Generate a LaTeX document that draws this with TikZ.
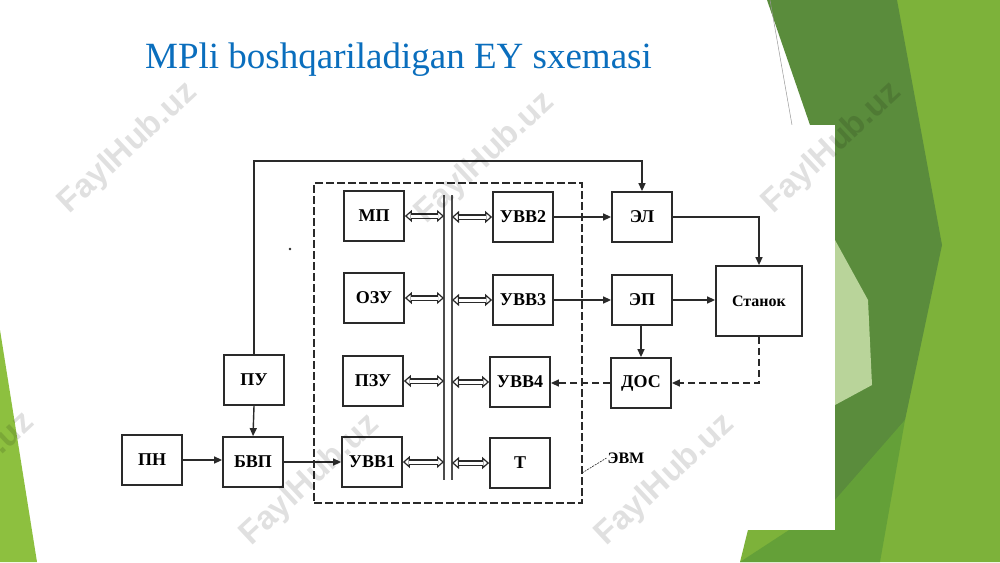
\documentclass[tikz,border=0pt]{standalone}
\usepackage{fontspec}
\setmainfont{Liberation Serif}
\newfontfamily\wmfont{Liberation Sans}
\usetikzlibrary{arrows.meta,positioning,calc}
\definecolor{titleblue}{HTML}{0A6EBD}
\definecolor{gdark}{HTML}{5A8C3C}
\definecolor{glight}{HTML}{7DB23A}
\definecolor{gmid}{HTML}{64A038}
\definecolor{gpale}{HTML}{B9D49A}
\definecolor{gleft}{HTML}{8DC03F}
\definecolor{lineblk}{HTML}{2A2A2A}
\begin{document}
\begin{tikzpicture}[x=1pt,y=-1pt,
  blk/.style={draw=lineblk, line width=1.8pt, fill=white, minimum width=60pt, minimum height=50pt, inner sep=0pt, font=\bfseries\fontsize{18}{18}\selectfont},
  conn/.style={line width=1.4pt, draw=lineblk},
  arr/.style={conn, -{Triangle[length=8pt,width=7pt]}},
  dsh/.style={dash pattern=on 7pt off 4pt},
  bitips/.style={line width=1.2pt, draw=lineblk, {Triangle[open,length=7pt,width=12pt]}-{Triangle[open,length=7pt,width=12pt]}},
  bishaft/.style={line width=1.2pt, draw=lineblk, double=white, double distance=3pt, shorten <=6.5pt, shorten >=6.5pt},
  busline/.style={line width=1.8pt, draw=black!70},
  frame/.style={draw=lineblk, line width=1.4pt, dash pattern=on 8pt off 3pt, minimum width=268pt, minimum height=320pt, inner sep=0pt},
  wmark/.style={font=\wmfont\bfseries\fontsize{33}{33}\selectfont, text=black, opacity=0.12, rotate=43}
]
\useasboundingbox (0,0) rectangle (1000,562);
\fill[white] (0,0) rectangle (1000,562);
% background greens
\fill[gleft] (0,330) -- (37,562) -- (0,562) -- cycle;
\fill[glight] (880,0) -- (1000,0) -- (1000,562) -- (740,562) -- cycle;
\fill[gdark] (767,0) -- (897,0) -- (942,245) -- (905,420) -- (835,505) -- (835,125) -- (810,125) -- cycle;
\fill[gmid] (740,562) -- (835,500) -- (905,420) -- (880,562) -- cycle;
\fill[gpale] (835,240) -- (868,300) -- (872,385) -- (835,405) -- cycle;
\draw[black!40, line width=0.5pt] (770,0) -- (792,125);
% white panel of the scheme
\fill[white] (100,125) rectangle (835,530);
% title
\node[anchor=base west, inner sep=0pt, text=titleblue, font=\fontsize{37}{37}\selectfont] (title) at (145,68) {MPli boshqariladigan EY sxemasi};
% ЭВМ frame
\node[frame] (evm) at (448,343) {};
% bus
\coordinate (bLt) at (444,195); \coordinate (bLb) at (444,480);
\coordinate (bRt) at (452,195); \coordinate (bRb) at (452,480);
\draw[busline] (bLt) -- (bLb);
\draw[busline] (bRt) -- (bRb);
% blocks
\node[blk] (mp)   at (374,216) {МП};
\node[blk] (ozu)  at (374,298) {ОЗУ};
\node[blk] (pzu)  at (373,381) {ПЗУ};
\node[blk] (uvv1) at (372,462) {УВВ1};
\node[blk] (uvv2) at (523,217) {УВВ2};
\node[blk] (uvv3) at (523,300) {УВВ3};
\node[blk] (uvv4) at (520,382) {УВВ4};
\node[blk] (t)    at (520,463) {Т};
\node[blk] (el)   at (642,217) {ЭЛ};
\node[blk] (ep)   at (642,300) {ЭП};
\node[blk] (dos)  at (641,383) {ДОС};
\node[blk, minimum width=86pt, minimum height=70pt, font=\bfseries\fontsize{16}{16}\selectfont] (stanok) at (759,301) {Станок};
\node[blk] (pu)   at (254,380) {ПУ};
\node[blk] (bvp)  at (253,462) {БВП};
\node[blk] (pn)   at (152,460) {ПН};
% bus arrows
\foreach \b in {mp,ozu,pzu,uvv1}{
  \draw[bitips] (\b.east) -- (\b.east -| bLt);
  \draw[bishaft] (\b.east) -- (\b.east -| bLt);
}
\foreach \b in {uvv2,uvv3,uvv4,t}{
  \draw[bitips] (\b.west -| bRt) -- (\b.west);
  \draw[bishaft] (\b.west -| bRt) -- (\b.west);
}
% connectors
\coordinate (topL) at (254,161);
\draw[arr] (pu.north) -- (topL) -| (el.north);
\draw[arr] (pu.south) -- (bvp.north);
\draw[arr] (pn.east) -- (pn.east -| bvp.west);
\draw[arr] (bvp.east) -- (bvp.east -| uvv1.west);
\draw[arr] (uvv2.east) -- (uvv2.east -| el.west);
\draw[arr] (uvv3.east) -- (uvv3.east -| ep.west);
\draw[arr] (el.east) -| (stanok.north);
\draw[arr] (ep.east) -- (ep.east -| stanok.west);
\draw[arr] (ep.south -| dos.north) -- (dos.north);
\draw[arr, dsh] (stanok.south) |- (dos.east);
\draw[arr, dsh] (dos.west) -- (dos.west -| uvv4.east);
% ЭВМ label
\node[font=\bfseries\fontsize{16}{16}\selectfont, inner sep=1pt] (evmlab) at (626,458) {ЭВМ};
\coordinate (evmpt) at (582,473);
\draw[lineblk, line width=0.6pt, dash pattern=on 2pt off 1pt] (evmpt) -- (evmlab.west);
% speck
\fill[lineblk] (290,249) circle (1.3pt);
% watermarks
\node[wmark] at (128,148) {FaylHub.uz};
\node[wmark] at (485,158) {FaylHub.uz};
\node[wmark] at (832,148) {FaylHub.uz};
\node[wmark] at (-35,478) {FaylHub.uz};
\node[wmark] at (310,480) {FaylHub.uz};
\node[wmark] at (665,480) {FaylHub.uz};
\end{tikzpicture}
\end{document}
